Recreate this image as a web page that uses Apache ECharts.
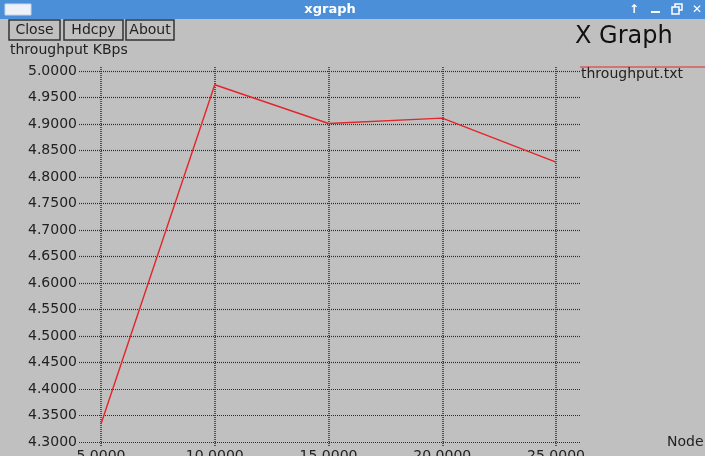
<!DOCTYPE html>
<html>
<head>
<meta charset="utf-8">
<title>xgraph</title>
<script src="https://cdn.jsdelivr.net/npm/echarts@6/dist/echarts.min.js"></script>
<style>
  html, body { margin: 0; padding: 0; background: #c0c0c0; }
  #chart { width: 705px; height: 456px; }
</style>
</head>
<body>
<div id="chart"></div>
<script>
// values
const nodes = [5, 10, 15, 20, 25];
const throughput = [4.334, 4.974, 4.901, 4.911, 4.828];
const xTicks = [5, 10, 15, 20, 25];
const yTicks = [4.3, 4.35, 4.4, 4.45, 4.5, 4.55, 4.6, 4.65, 4.7, 4.75, 4.8, 4.85, 4.9, 4.95, 5.0];

const FONT = 'DejaVu Sans';
const ink = '#222';
const gridColor = '#2e2e2e';

const chart = echarts.init(document.getElementById('chart'));

function button(x, w, label) {
  return [
    { type: 'rect', shape: { x: x, y: 20, width: w, height: 20 },
      style: { fill: 'none', stroke: '#333', lineWidth: 1.5 } },
    { type: 'text', x: x + w / 2, y: 30,
      style: { text: label, font: '14px ' + FONT, fill: ink, align: 'center', verticalAlign: 'middle' } },
  ];
}

const option = {
  backgroundColor: '#c0c0c0',
  animation: false,
  grid: [
    { left: 79, right: 125, top: 71, bottom: 14, outerBoundsMode: 'none' },
    { left: 101, right: 149, top: 67, bottom: 10, outerBoundsMode: 'none' },
  ],
  xAxis: [
    { type: 'value', gridIndex: 0, min: 4.033, max: 26.055, show: false },
    {
      type: 'value', gridIndex: 1,
      min: xTicks[0], max: xTicks[xTicks.length - 1], interval: 5,
      axisLine: { show: false },
      axisTick: { show: false },
      axisLabel: {
        margin: 3, color: ink, fontFamily: FONT, fontSize: 14,
        formatter: (v) => v.toFixed(4),
      },
      splitLine: { show: true, lineStyle: { color: gridColor, type: [1, 1], width: 1.5 } },
    },
  ],
  yAxis: [
    {
      type: 'value', gridIndex: 0,
      min: yTicks[0], max: yTicks[yTicks.length - 1], interval: 0.05,
      axisLine: { show: false },
      axisTick: { show: false },
      axisLabel: {
        margin: 2, color: ink, fontFamily: FONT, fontSize: 14,
        formatter: (v) => v.toFixed(4),
      },
      splitLine: { show: true, lineStyle: { color: gridColor, type: [1, 1], width: 1.2 } },
    },
    { type: 'value', gridIndex: 1, min: 0, max: 1, show: false },
  ],
  series: [
    {
      name: 'throughput.txt',
      type: 'line',
      xAxisIndex: 0, yAxisIndex: 0,
      data: nodes.map((n, i) => [n, throughput[i]]),
      symbol: 'none',
      lineStyle: { color: '#e3262b', width: 1.4 },
    },
  ],
  graphic: [
    // title bar
    { type: 'rect', shape: { x: 0, y: 0, width: 705, height: 19 }, style: { fill: '#4a8fd8' } },
    { type: 'rect', shape: { x: 5, y: 4, width: 26, height: 11 }, style: { fill: '#eef2f8', stroke: '#c8d6ea' } },
    { type: 'text', x: 330, y: 10,
      style: { text: 'xgraph', font: 'bold 13px ' + FONT, fill: '#fff', align: 'center', verticalAlign: 'middle' } },
    { type: 'text', x: 634, y: 10,
      style: { text: '↑', font: 'bold 12px ' + FONT, fill: '#fff', align: 'center', verticalAlign: 'middle' } },
    { type: 'rect', shape: { x: 651, y: 11, width: 9, height: 2 }, style: { fill: '#fff' } },
    { type: 'rect', shape: { x: 675, y: 4, width: 7, height: 6 }, style: { fill: 'none', stroke: '#fff', lineWidth: 1.5 } },
    { type: 'rect', shape: { x: 672, y: 7, width: 7, height: 7 }, style: { fill: '#4a8fd8', stroke: '#fff', lineWidth: 1.5 } },
    { type: 'text', x: 697, y: 10,
      style: { text: '✕', font: 'bold 12px ' + FONT, fill: '#fff', align: 'center', verticalAlign: 'middle' } },
    // buttons
    ...button(9, 51, 'Close'),
    ...button(64, 59, 'Hdcpy'),
    ...button(126, 48, 'About'),
    // labels
    { type: 'text', x: 575, y: 37,
      style: { text: 'X Graph', font: '24px ' + FONT, fill: '#111', verticalAlign: 'middle' } },
    { type: 'text', x: 10, y: 50,
      style: { text: 'throughput KBps', font: '14px ' + FONT, fill: ink, verticalAlign: 'middle' } },
    { type: 'text', x: 667, y: 442,
      style: { text: 'Node', font: '14px ' + FONT, fill: ink, verticalAlign: 'middle' } },
    // legend
    { type: 'line', shape: { x1: 580, y1: 67, x2: 705, y2: 67 }, style: { stroke: '#e3262b', lineWidth: 1.2 } },
    { type: 'text', x: 581, y: 74,
      style: { text: 'throughput.txt', font: '14px ' + FONT, fill: ink, verticalAlign: 'middle' } },
  ],
};

chart.setOption(option);
</script>
</body>
</html>
